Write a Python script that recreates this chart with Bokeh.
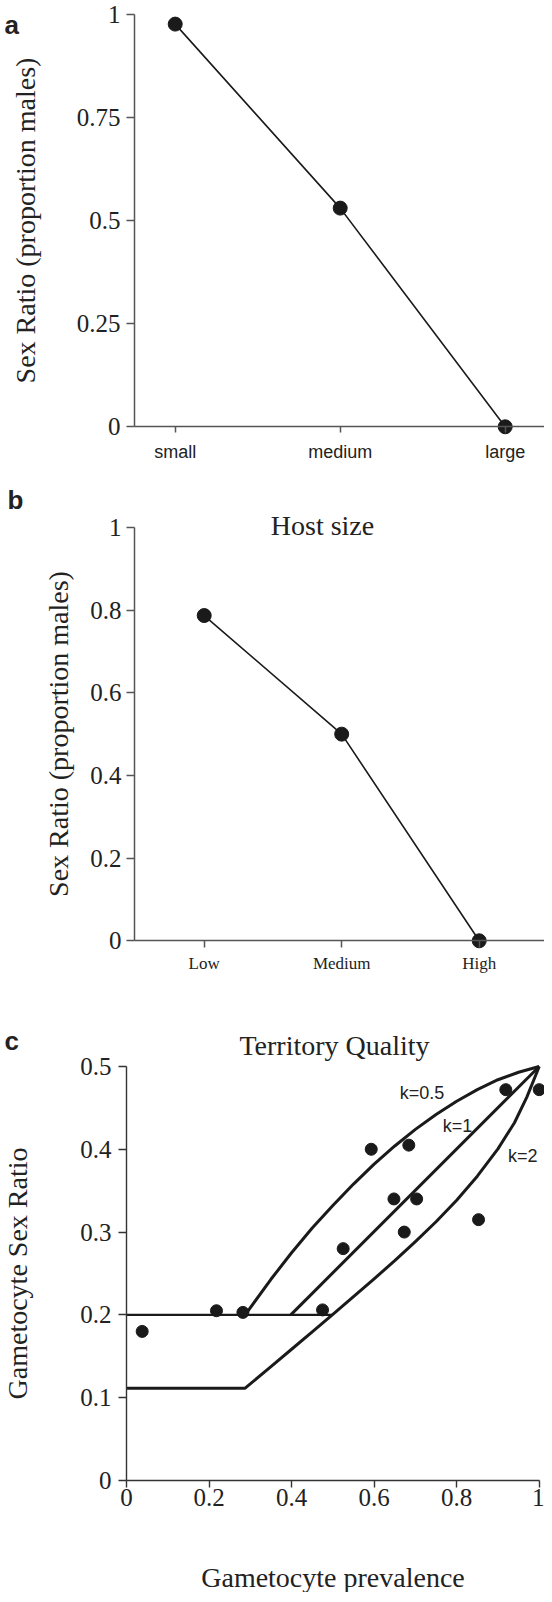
from bokeh.plotting import figure
from bokeh.models import FixedTicker, PrintfTickFormatter, Label
from bokeh.layouts import column
from bokeh.embed import file_html
from bokeh.resources import INLINE

SERIF = "Liberation Serif"
SANS = "Liberation Sans"
INK = "#1a1a1a"
AXIS_AB = "#555555"
AXIS_C = "#333333"
TXT = "#222222"

# ---------------- data ----------------
# panel a
host_size = ["small", "medium", "large"]
host_ratio = [0.976, 0.53, 0.0]
a_yticks = [0, 0.25, 0.5, 0.75, 1]

# panel b
territory = ["Low", "Medium", "High"]
territory_ratio = [0.787, 0.50, 0.0]
b_yticks = [0, 0.2, 0.4, 0.6, 0.8, 1]

# panel c
prevalence = [0.038, 0.218, 0.282, 0.475, 0.525, 0.593, 0.648, 0.684, 0.673, 0.703, 0.853, 0.919, 1.0]
gam_ratio = [0.180, 0.205, 0.203, 0.206, 0.280, 0.400, 0.340, 0.405, 0.300, 0.340, 0.315, 0.472, 0.472]
c_xticks = [0, 0.2, 0.4, 0.6, 0.8, 1]
c_yticks = [0, 0.1, 0.2, 0.3, 0.4, 0.5]

k05_x = [0.2875, 0.35, 0.40, 0.45, 0.50, 0.55, 0.60, 0.65, 0.70, 0.75, 0.80, 0.85, 0.90, 0.95, 1.00]
k05_y = [0.200, 0.243, 0.275, 0.305, 0.332, 0.358, 0.382, 0.404, 0.424, 0.442, 0.458, 0.472, 0.484, 0.493, 0.500]
k1_x = [0.398, 1.0]
k1_y = [0.200, 0.500]
k2_x = [0.2875, 0.35, 0.40, 0.45, 0.50, 0.55, 0.60, 0.65, 0.70, 0.75, 0.80, 0.85, 0.90, 0.94, 0.97, 1.00]
k2_y = [0.1115, 0.1375, 0.1585, 0.1795, 0.2005, 0.222, 0.2435, 0.2655, 0.2885, 0.3125, 0.3385, 0.3675, 0.4005, 0.432, 0.463, 0.500]
floor_high_x = [0.0, 0.498]
floor_high_y = [0.2, 0.2]
floor_low_x = [0.0, 0.2875]
floor_low_y = [0.1115, 0.1115]
curve_names = ["k=0.5", "k=1", "k=2"]
curve_label_x = [0.716, 0.802, 0.960]
curve_label_y = [0.468, 0.428, 0.392]

W = 544


def make_fig(h, xr, yr):
    p = figure(width=W, height=h, x_range=xr, y_range=yr,
               min_border=0, min_border_left=0, min_border_right=0,
               min_border_top=0, min_border_bottom=0,
               output_backend="svg", toolbar_location=None)
    p.outline_line_color = None
    p.xgrid.visible = False
    p.ygrid.visible = False
    p.background_fill_color = "white"
    p.border_fill_color = "white"
    for ax in (p.xaxis, p.yaxis):
        ax.minor_tick_line_color = None
        ax.major_tick_in = 0
        ax.major_label_text_color = TXT
        ax.axis_label_text_color = TXT
        ax.axis_label_text_font = SERIF
        ax.axis_label_text_font_style = "normal"
        ax.axis_label_text_font_size = "28px"
    return p


def px(p, cx, cy):
    """canvas pixel -> data coordinates of figure p (frame fills the canvas)"""
    x0, x1 = p.x_range.start, p.x_range.end
    y0, y1 = p.y_range.start, p.y_range.end
    return x0 + cx * (x1 - x0) / p.width, y1 - cy * (y1 - y0) / p.height


def put_text(p, cx, cy, text, font, size, style="normal", align="left", baseline="alphabetic"):
    x, y = px(p, cx, cy)
    p.add_layout(Label(x=x, y=y, text=text, text_font=font, text_font_size=size,
                       text_font_style=style, text_color=TXT,
                       text_align=align, text_baseline=baseline))


def style_axes(p, color, width):
    for ax in (p.xaxis, p.yaxis):
        ax.axis_line_color = color
        ax.axis_line_width = width
        ax.major_tick_line_color = color
        ax.major_tick_line_width = width


# ---------------- panel a ----------------
pa = make_fig(472, (-1.0588, 2.2382), (-0.1108, 1.0332))
xa = list(range(len(host_size)))
pa.line(xa, host_ratio, line_color=INK, line_width=1.6)
pa.scatter(xa, host_ratio, size=14, color=INK)
pa.xaxis.fixed_location = 0
pa.xaxis.bounds = (-0.2467, 2.2382)
pa.xaxis.ticker = FixedTicker(ticks=xa)
pa.xaxis.major_label_overrides = {i: n for i, n in enumerate(host_size)}
pa.xaxis.major_tick_out = 6
pa.xaxis.major_label_standoff = 9
pa.xaxis.major_label_text_font = SANS
pa.xaxis.major_label_text_font_size = "18px"
pa.yaxis.fixed_location = -0.2467
pa.yaxis.bounds = (0, 1)
pa.yaxis.ticker = FixedTicker(ticks=a_yticks)
pa.yaxis.formatter = PrintfTickFormatter(format="%g")
pa.yaxis.major_tick_out = 8
pa.yaxis.major_label_standoff = 6
pa.yaxis.major_label_text_font = SERIF
pa.yaxis.major_label_text_font_size = "25px"
pa.yaxis.axis_label = "Sex Ratio (proportion males)"
pa.yaxis.axis_label_standoff = 33
style_axes(pa, AXIS_AB, 1.5)
put_text(pa, 4, 24, "a", SANS, "26px", style="bold")

# ---------------- panel b ----------------
pb = make_fig(525, (-1.4815, 2.4749), (-0.1372, 1.1331))
xb = list(range(len(territory)))
pb.line(xb, territory_ratio, line_color=INK, line_width=1.6)
pb.scatter(xb, territory_ratio, size=14, color=INK)
pb.xaxis.fixed_location = 0
pb.xaxis.bounds = (-0.507, 2.4749)
pb.xaxis.ticker = FixedTicker(ticks=xb)
pb.xaxis.major_label_overrides = {i: n for i, n in enumerate(territory)}
pb.xaxis.major_tick_out = 7
pb.xaxis.major_label_standoff = 6
pb.xaxis.major_label_text_font = SERIF
pb.xaxis.major_label_text_font_size = "17px"
pb.yaxis.fixed_location = -0.507
pb.yaxis.bounds = (0, 1)
pb.yaxis.ticker = FixedTicker(ticks=b_yticks)
pb.yaxis.formatter = PrintfTickFormatter(format="%g")
pb.yaxis.major_tick_out = 8
pb.yaxis.major_label_standoff = 5
pb.yaxis.major_label_text_font = SERIF
pb.yaxis.major_label_text_font_size = "25px"
pb.yaxis.axis_label = "Sex Ratio (proportion males)"
pb.yaxis.axis_label_standoff = 13
style_axes(pb, AXIS_AB, 1.5)
put_text(pb, 7, 27, "b", SANS, "26px", style="bold")
put_text(pb, 322, 53, "Host size", SERIF, "28px", align="center")

# ---------------- panel c ----------------
pc = make_fig(595, (-0.3053, 1.0128), (-0.1353, 0.5833))
pc.line(floor_high_x, floor_high_y, line_color=INK, line_width=2.4)
pc.line(floor_low_x + k2_x[1:], floor_low_y + k2_y[1:], line_color=INK, line_width=3, line_join="round")
pc.line(k05_x, k05_y, line_color=INK, line_width=3, line_join="round")
pc.line(k1_x, k1_y, line_color=INK, line_width=3)
pc.scatter(prevalence, gam_ratio, size=12, color=INK)
for nm, lx, ly in zip(curve_names, curve_label_x, curve_label_y):
    pc.add_layout(Label(x=lx, y=ly, text=nm, text_font=SANS, text_font_size="18px",
                        text_color=TXT, text_align="center", text_baseline="middle"))
pc.xaxis.fixed_location = 0
pc.xaxis.bounds = (0, 1)
pc.xaxis.ticker = FixedTicker(ticks=c_xticks)
pc.xaxis.formatter = PrintfTickFormatter(format="%g")
pc.xaxis.major_tick_out = 7
pc.xaxis.major_label_standoff = 2
pc.xaxis.major_label_text_font = SERIF
pc.xaxis.major_label_text_font_size = "25px"
pc.xaxis.axis_label = "Gametocyte prevalence"
pc.xaxis.axis_label_standoff = 52
pc.yaxis.fixed_location = 0
pc.yaxis.bounds = (0, 0.5)
pc.yaxis.ticker = FixedTicker(ticks=c_yticks)
pc.yaxis.formatter = PrintfTickFormatter(format="%g")
pc.yaxis.major_tick_out = 8
pc.yaxis.major_label_standoff = 7
pc.yaxis.major_label_text_font = SERIF
pc.yaxis.major_label_text_font_size = "25px"
pc.yaxis.axis_label = "Gametocyte Sex Ratio"
pc.yaxis.axis_label_standoff = 44
style_axes(pc, AXIS_C, 1.4)
put_text(pc, 4, 43, "c", SANS, "26px", style="bold")
put_text(pc, 334, 48, "Territory Quality", SERIF, "28px", align="center")

layout = column(pa, pb, pc, spacing=0)
open("out.html", "w").write(file_html(layout, INLINE))
